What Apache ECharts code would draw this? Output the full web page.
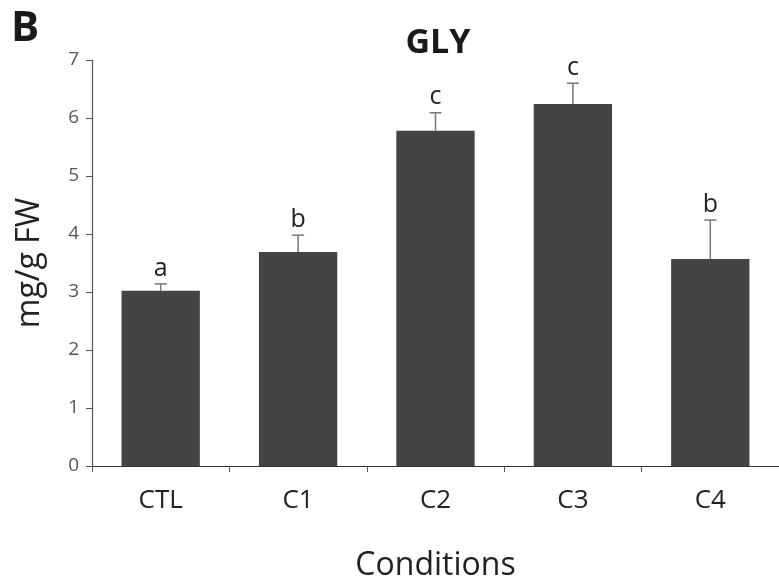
<!DOCTYPE html>
<html><head><meta charset="utf-8">
<script src="https://cdn.jsdelivr.net/npm/echarts@6/dist/echarts.min.js"></script>
<style>html,body{margin:0;padding:0;background:#fff}#c{width:779px;height:587px}</style>
</head><body><div id="c"></div>
<script>
const categories = ['CTL', 'C1', 'C2', 'C3', 'C4'];
const means = [3.02, 3.69, 5.78, 6.24, 3.57];
const errors = [0.12, 0.29, 0.31, 0.36, 0.67];
const letters = ['a', 'b', 'c', 'c', 'b'];
const yTicks = [0, 1, 2, 3, 4, 5, 6, 7];

const chart = echarts.init(document.getElementById('c'));
const font = '"Open Sans", "Noto Sans", sans-serif';
chart.setOption({
  animation: false,
  graphic: [{type: 'text', left: 11, top: 8, style: {text: 'B', font: 'bold 42px ' + font, fill: '#1a1a1a'}}],
  title: {text: 'GLY', left: 433, textAlign: 'center', top: 21,
    textStyle: {fontFamily: font, fontWeight: 'bold', fontSize: 34, color: '#1a1a1a'}},
  grid: {left: 92, right: -2, top: 60, bottom: 121, containLabel: false},
  xAxis: {type: 'category', data: categories,
    name: 'Conditions', nameLocation: 'middle', nameGap: 84,
    nameTextStyle: {fontFamily: font, fontSize: 32, color: '#222'},
    axisLine: {lineStyle: {color: '#333', width: 1.2}},
    axisTick: {show: true, length: 6, lineStyle: {color: '#555'}},
    axisLabel: {fontFamily: font, fontSize: 26, color: '#222', margin: 22}},
  yAxis: {type: 'value', min: 0, max: 7, interval: 1,
    name: 'mg/g FW', nameLocation: 'middle', nameGap: 46,
    nameTextStyle: {fontFamily: font, fontSize: 32, color: '#222'},
    axisLine: {show: true, lineStyle: {color: '#555', width: 1.2}},
    axisTick: {show: true, length: 6, lineStyle: {color: '#555'}},
    splitLine: {show: false},
    axisLabel: {fontFamily: font, fontSize: 19, color: '#555', margin: 13,
      formatter: v => yTicks.includes(v) ? String(v) : ''}},
  series: [
    {type: 'bar', data: means, barWidth: '57%', itemStyle: {color: '#444444'}},
    {type: 'custom', data: means.map((m, i) => [i, m, errors[i]]),
      renderItem: (params, api) => {
        const i = api.value(0), m = api.value(1), e = api.value(2);
        const base = api.coord([i, m]);
        const top = api.coord([i, m + e]);
        return {type: 'group', children: [
          {type: 'line', shape: {x1: base[0], y1: base[1], x2: top[0], y2: top[1]}, style: {stroke: '#777', lineWidth: 1.5}},
          {type: 'line', shape: {x1: top[0] - 6, y1: top[1], x2: top[0] + 6, y2: top[1]}, style: {stroke: '#777', lineWidth: 1.5}},
          {type: 'text', x: top[0], y: top[1] - 3, style: {text: letters[i], textAlign: 'center', textVerticalAlign: 'bottom', font: '25px ' + font, fill: '#222'}}
        ]};
      }, z: 5}
  ]
});
</script></body></html>
